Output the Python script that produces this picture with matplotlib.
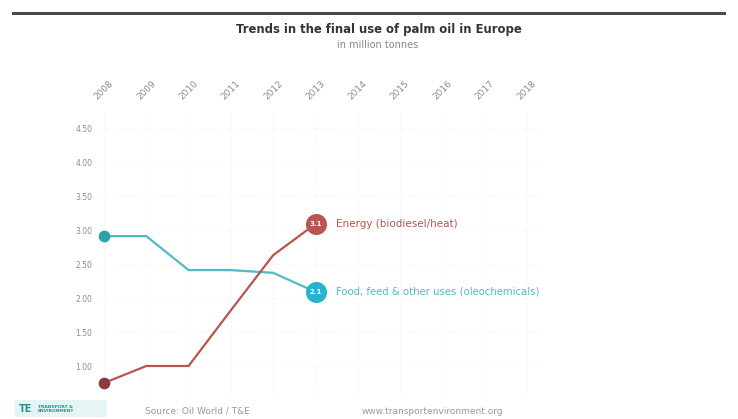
import matplotlib
matplotlib.use("Agg")
import matplotlib.pyplot as plt
from matplotlib.patches import Rectangle

# Data (million tonnes)
years = [2008, 2009, 2010, 2011, 2012, 2013, 2014, 2015, 2016, 2017, 2018]
data_years = [2008, 2009, 2010, 2011, 2012, 2013]
energy = [0.75, 1.0, 1.0, 1.82, 2.63, 3.09]
food_feed = [2.91, 2.91, 2.41, 2.41, 2.37, 2.09]
y_ticks = [1.0, 1.5, 2.0, 2.5, 3.0, 3.5, 4.0, 4.5]
energy_label = "Energy (biodiesel/heat)"
food_label = "Food, feed & other uses (oleochemicals)"

title = "Trends in the final use of palm oil in Europe"
subtitle = "in million tonnes"
source = "Source: Oil World / T&E"
site = "www.transportenvironment.org"

RED = "#b9544f"
RED_DARK = "#8a3b3c"
TEAL = "#4fbcc2"
TEAL_DOT = "#28b3cc"

W, H = 738, 419
fig = plt.figure(figsize=(W / 100, H / 100), dpi=100)
fig.patch.set_facecolor("white")

# axes placed in pixel units
left, right, top, bottom = 98, 545, 110, 395
ax = fig.add_axes([left / W, 1 - bottom / H, (right - left) / W, (bottom - top) / H])
px_per_year = 42.3
px_per_unit = 68.0
ax.set_xlim(2008 - (104 - left) / px_per_year, 2008 + (right - 104) / px_per_year)
ax.set_ylim(1.0 - (bottom - 366) / px_per_unit, 4.5 + (128 - top) / px_per_unit)

for s in ax.spines.values():
    s.set_visible(False)

ax.set_xticks(years)
ax.set_xticklabels([str(y) for y in years], rotation=45, ha="center", va="center",
                   fontsize=6.5, color="#8c8c8c")
ax.xaxis.tick_top()
ax.tick_params(axis="x", length=0, pad=14)

ax.set_yticks(y_ticks)
ax.set_yticklabels([f"{v:.2f}" for v in y_ticks], fontsize=5.5, color="#8c8c8c")
ax.tick_params(axis="y", length=0, pad=4)

ax.grid(True, color="#f3f3f3", linewidth=0.6, linestyle=(0, (1, 1)))
ax.set_axisbelow(True)

# lines
ax.plot(data_years, food_feed, color=TEAL, lw=1.6, zorder=3, solid_joinstyle="round")
ax.plot(data_years, energy, color=RED, lw=1.6, zorder=3, solid_joinstyle="round")

# start dots
ax.scatter([data_years[0]], [food_feed[0]], s=55, color="#2aa2a6", zorder=4, clip_on=False)
ax.scatter([data_years[0]], [energy[0]], s=55, color=RED_DARK, zorder=4, clip_on=False)

# end dots with values
ax.scatter([data_years[-1]], [energy[-1]], s=200, color=RED, zorder=5, clip_on=False)
ax.scatter([data_years[-1]], [food_feed[-1]], s=200, color=TEAL_DOT, zorder=5, clip_on=False)
ax.text(data_years[-1], energy[-1], f"{energy[-1]:.1f}", color="white", fontsize=5,
        ha="center", va="center", zorder=6, fontweight="bold")
ax.text(data_years[-1], food_feed[-1], f"{food_feed[-1]:.1f}", color="white", fontsize=5,
        ha="center", va="center", zorder=6, fontweight="bold")

ax.annotate(energy_label, (data_years[-1], energy[-1]), xytext=(15, 0),
            textcoords="offset points", fontsize=7.5, color=RED, va="center")
ax.annotate(food_label, (data_years[-1], food_feed[-1]), xytext=(15, 0),
            textcoords="offset points", fontsize=7.3, color=TEAL, va="center")

# header rule, title, subtitle
fig.add_artist(Rectangle((12 / W, 1 - 15 / H), (726 - 12) / W, 3 / H,
                         transform=fig.transFigure, color="#4a4a4a", lw=0))
fig.text(379 / W, 1 - 30 / H, title, ha="center", va="center", fontsize=8.4,
         fontweight="bold", color="#333333")
fig.text(378 / W, 1 - 45 / H, subtitle, ha="center", va="center", fontsize=7,
         color="#888888")

# footer
fig.add_artist(Rectangle((15 / W, 1 - 417 / H), 92 / W, 17 / H,
                         transform=fig.transFigure, color="#e4f5f4", lw=0))
fig.text(19 / W, 1 - 409 / H, "TE", fontsize=7, color="#2a8f8a", va="center",
         fontweight="bold")
fig.text(38 / W, 1 - 409 / H, "TRANSPORT &\nENVIRONMENT", fontsize=3.2, color="#2a8f8a",
         va="center", linespacing=1.0, fontweight="bold")
fig.text(145 / W, 1 - 411 / H, source, fontsize=6.5, color="#999999", va="center")
fig.text(362 / W, 1 - 411 / H, site, fontsize=6.5, color="#999999", va="center")

fig.savefig("out.png", dpi=100, facecolor="white")
